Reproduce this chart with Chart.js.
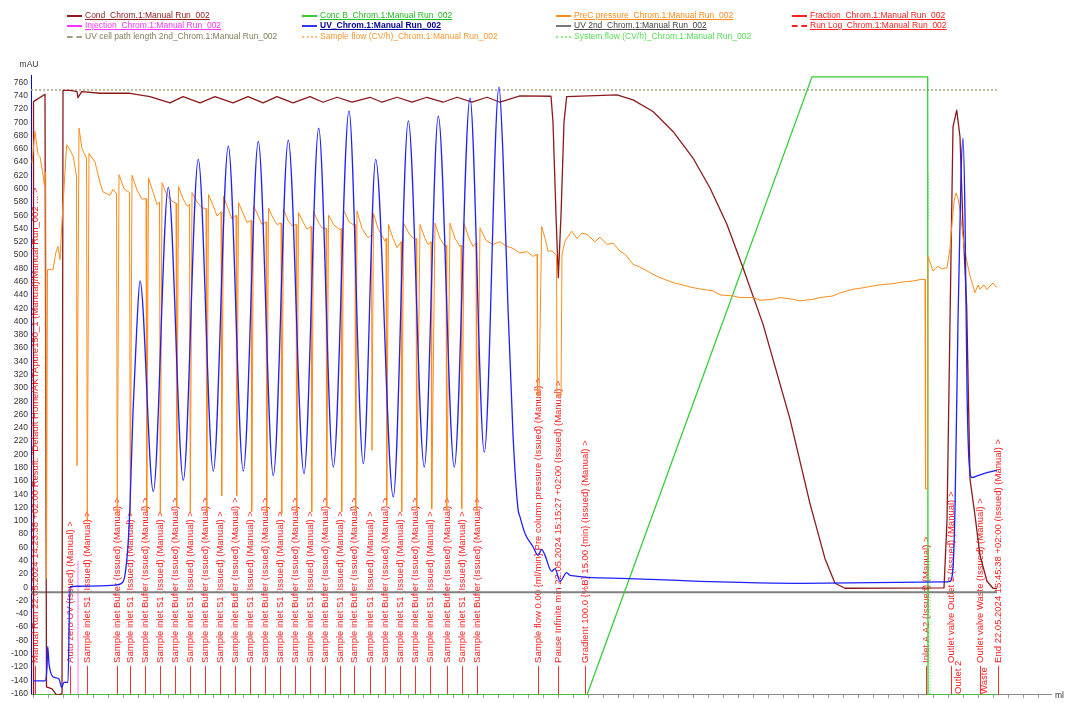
<!DOCTYPE html>
<html>
<head>
<meta charset="utf-8">
<script src="https://cdn.jsdelivr.net/npm/chart.js@4.4.1/dist/chart.umd.min.js"></script>
<style>
  html, body { margin: 0; padding: 0; background: #fff; }
  #wrap { position: relative; width: 1067px; height: 703px; }
  #legend { position: absolute; left: 0; top: 0; font-family: "Liberation Sans", Arial, sans-serif; font-size: 8.5px; }
  .item { position: absolute; height: 11px; line-height: 11px; white-space: nowrap; }
  .swatch { position: absolute; left: 0; top: 5px; width: 15px; height: 0; }
  .label { position: absolute; left: 18px; top: 0; }
</style>
</head>
<body>
<div id="wrap">
  <canvas id="chart" width="1067" height="703"></canvas>
  <div id="legend"></div>
</div>
<script>
// x in ml, y in mAU (Conc B in %)
const uvPoints = [
  [3.3,-141],[4.5,-141],[4.7,-120],[4.77,-89],[4.9,-115],[5.1,-130],[5.5,-136],[5.9,-138],[6.17,-151],[6.4,-143],[6.8,-143],
  [7.0,1],[7.8,1.5],[10.0,2],[11.8,4],[12.3,8],[12.5,18.5],[12.8,63],[13.0,123],[13.3,264],[13.67,388],[14.0,461],
  [15.33,144],[16.83,602],[18.33,161],[19.83,644],[21.33,175],[22.83,664],[24.33,175],[25.83,671],[27.33,168],[28.83,673],
  [30.4,171],[31.87,691],[33.33,181],[34.9,717],[36.33,186],[37.57,644],[39.33,136],[40.83,702],[42.43,181],[43.83,709],
  [45.43,181],[47.0,736],[48.43,203],[49.9,753],[50.3,650],[50.8,420],[51.3,230],[51.8,118],[52.0,106],[52.5,81],
  [53.3,61],[53.8,48],[54.17,57],[54.5,48],[55.17,24],[55.5,28],[56.0,9],[56.67,22],[57.0,18],[62.0,13.5],[65.0,12],
  [70.0,9],[75.0,7],[80.0,6],[85.0,6.5],[90.0,7.5],[94.4,8],[95.0,9],[95.3,30],[95.5,118],[95.8,400],[96.1,620],
  [96.3,676],[96.5,560],[96.7,300],[96.9,190],[97.2,165],[97.8,168],[98.6,172],[99.7,176]
];
const condPoints = [
  [3.3,-162],[3.35,731],[4.5,742],[4.65,-150],[5.2,-153],[5.7,-163],[6.2,-160],[6.3,748],[7.0,748],[7.7,746],[7.8,737],
  [8.17,746],[10.0,743.5],[13.0,743.5],[15.0,738.5],[17.0,729],[18.3,738.5],[20.0,729],[21.5,738.5],[23.3,729],[24.8,738.5],
  [26.3,729],[27.7,738.5],[29.3,729],[31.0,738.5],[32.3,730],[33.7,737.5],[35.2,730],[37.0,737.5],[38.2,730],[39.7,737.5],
  [41.2,730],[42.7,737.5],[44.3,730],[45.7,737.5],[47.2,730],[48.7,737.5],[50.0,730],[52.0,739.5],[55.1,739],[55.3,700],
  [55.6,560],[55.83,466],[56.1,560],[56.4,700],[56.67,738.5],[61.7,741],[63.3,733.5],[65.3,716],[67.3,686],[69.3,646],
  [71.0,601],[72.7,546],[74.3,481],[76.3,396],[79.0,253],[81.0,126],[82.5,43],[83.5,6],[84.5,-1.5],[94.4,-1],[94.7,100],
  [95.0,400],[95.3,693],[95.67,718],[96.0,678],[96.3,543],[96.67,423],[97.0,163],[97.5,108],[98.0,48],[98.7,9],[99.3,-1.5],
  [99.7,-2]
];
const precPoints = [
  [3.2,639],[3.5,686],[3.8,651],[4.0,648],[4.33,618],[4.43,606],[4.57,625],[4.65,13],[4.75,478],[5.3,478],[5.6,505],
  [5.8,513],[6.0,493],[6.17,543],[6.67,666],[7.0,658],[7.33,648],[7.65,618],[7.7,183],[7.9,691],[8.2,660],[8.65,646],
  [8.73,99],[8.9,653],[9.5,640],[10.0,609],[10.3,595],[11.0,590],[11.3,599],[11.65,592],[11.73,108],[11.9,621],[12.4,600],
  [12.95,594],[13.03,108],[13.2,620],[13.7,598],[14.2,584],[14.6,585],[14.67,114],[14.85,616],[15.3,595],[15.7,576],
  [15.95,580],[16.03,110],[16.2,609],[16.7,590],[17.2,581],[17.6,578],[17.67,121],[17.85,603],[18.3,585],[18.7,574],
  [18.95,576],[19.03,114],[19.2,594],[19.7,580],[20.2,571],[20.6,570],[20.67,114],[20.85,591],[21.3,575],[21.7,559],
  [22.1,565],[22.17,138],[22.35,589],[22.8,570],[23.2,554],[23.6,560],[23.67,138],[23.85,579],[24.3,563],[24.7,549],
  [25.1,552],[25.17,114],[25.35,574],[25.8,560],[26.2,546],[26.6,550],[26.67,114],[26.85,571],[27.3,556],[27.7,546],
  [28.1,548],[28.17,111],[28.35,569],[28.8,552],[29.2,544],[29.6,546],[29.67,114],[29.85,564],[30.3,550],[30.7,539],
  [31.1,543],[31.17,114],[31.35,566],[31.8,550],[32.2,541],[32.6,540],[32.67,121],[32.85,560],[33.4,545],[34.0,538],
  [34.1,540],[34.17,114],[34.35,568],[34.9,550],[35.4,545],[35.5,546],[35.57,116],[35.7,566],[36.2,540],[36.8,526],
  [37.15,530],[37.2,206],[37.35,563],[37.8,540],[38.5,521],[38.6,525],[38.67,123],[38.85,546],[39.3,525],[39.7,511],
  [40.1,520],[40.17,114],[40.35,548],[41.0,530],[41.5,523],[41.6,525],[41.67,118],[42.0,546],[42.5,525],[42.8,516],
  [43.1,520],[43.17,118],[43.5,548],[44.0,525],[44.5,513],[44.6,515],[44.67,116],[45.0,548],[45.5,525],[46.0,513],
  [46.1,515],[46.17,118],[46.4,548],[46.9,525],[47.3,513],[47.6,518],[47.67,116],[48.0,541],[48.6,522],[49.3,516],
  [50.0,520],[50.7,513],[51.3,510],[52.0,503],[52.7,505],[53.3,498],[53.7,501],[53.75,288],[53.9,288],[54.17,543],
  [54.5,525],[54.8,506],[55.2,506],[55.65,500],[55.7,288],[56.1,288],[56.2,501],[56.5,521],[57.17,536],[57.7,525],
  [58.2,533],[58.7,531],[59.5,520],[60.0,527],[60.7,516],[61.3,518],[62.0,506],[62.6,500],[63.3,486],[64.0,482],
  [65.3,471],[66.0,466],[67.3,458.5],[68.0,456],[69.3,451],[70.0,449],[71.3,446],[72.0,440],[73.3,438.5],[74.0,436],
  [75.3,436],[76.0,432],[77.3,433.5],[78.0,436],[79.3,433.5],[80.0,431],[81.3,433.5],[82.0,436],[83.3,438.5],[84.0,443],
  [85.3,448.5],[86.0,450],[87.3,453.5],[88.0,455],[89.3,457],[90.0,459],[91.3,461],[92.0,463],[92.5,463.5],[92.55,148],
  [92.75,148],[92.8,498.5],[93.1,485],[93.3,476],[93.8,483],[94.2,479],[94.7,481],[95.0,510],[95.17,543],[95.4,580],
  [95.6,593.5],[95.8,585],[96.0,568],[96.2,540],[96.5,503.5],[97.0,468.5],[97.5,443.5],[97.8,455],[98.0,448.5],
  [98.4,455],[98.7,448],[99.0,453.5],[99.3,458],[99.67,451]
];
const concBPoints = [[3.1,0],[58.7,0],[81.2,100],[92.77,100],[92.8,0],[99.7,0]];
const uv2ndPoints = [[3.1,-7.5],[99.7,-7.5]];
const cellPathPoints = [[3.1,748.5],[99.7,748.5]];
const injectionPoints = [[7.8,-162],[7.8,40]];
const systemFlowPoints = [[92.85,624],[92.85,553],[92.9,null],[93.0,48],[93.0,-162]];

const runLogX = [3.5, 7.0, 8.67, 11.67, 13.0, 14.5, 16.0, 17.5, 19.0, 20.5, 22.0, 23.5, 25.0, 26.5, 28.0, 29.5, 31.0, 32.5,
  34.0, 35.4, 37.0, 38.5, 40.0, 41.5, 43.0, 44.67, 46.17, 47.67, 53.83, 55.83, 58.5, 92.55, 95.1, 97.95, 99.75];
const S1 = 'Sample inlet S1 (Issued) (Manual) >';
const BUF = 'Sample inlet Buffer (Issued) (Manual) >';
const runLogText = [
  'Manual Run 22.05.2024 14:23:38 +02:00 Result: "Default Home/AKTApure150_1 (Manual)/Manual Run_002 ... >',
  'Auto zero UV (Issued) (Manual) >',
  S1, BUF, S1, BUF, S1, BUF, S1, BUF, S1, BUF, S1, BUF, S1, BUF, S1, BUF, S1, BUF, S1, BUF, S1, BUF, S1, BUF, S1, BUF,
  'Sample flow 0.00 {ml/min} Pre column pressure (Issued) (Manual) >',
  'Pause Infinite min 22.05.2024 15:15:27 +02:00 (Issued) (Manual) >',
  'Gradient 100.0 {%B} 15.00 {min} (Issued) (Manual) >',
  'Inlet A A2 (Issued) (Manual) >',
  'Outlet valve Outlet 2 (Issued) (Manual) >',
  'Outlet valve Waste (Issued) (Manual) >',
  'End 22.05.2024 15:45:38 +02:00 (Issued) (Manual) >'
];
const fractionX = [95.8, 98.4];
const fractionText = ['Outlet 2', 'Waste'];
const yTicks = [-160,-140,-120,-100,-80,-60,-40,-20,0,20,40,60,80,100,120,140,160,180,200,220,240,260,280,300,320,340,
  360,380,400,420,440,460,480,500,520,540,560,580,600,620,640,660,680,700,720,740,760];

const FONT = '"Liberation Sans", Arial, sans-serif';

// legend (drawn as HTML, above the canvas)
const legendItems = [
  { text: 'Cond_Chrom.1:Manual Run_002', color: '#8b1a1a', tc: '#8b1a1a', style: 'solid', col: 0, row: 0, u: true },
  { text: 'Conc B_Chrom.1:Manual Run_002', color: '#33cc33', tc: '#22bb22', style: 'solid', col: 1, row: 0, u: true },
  { text: 'PreC pressure_Chrom.1:Manual Run_002', color: '#ff8c1a', tc: '#ff8c1a', style: 'solid', col: 2, row: 0, u: true },
  { text: 'Fraction_Chrom.1:Manual Run_002', color: '#ff2020', tc: '#ff2020', style: 'solid', col: 3, row: 0, u: true },
  { text: 'Injection_Chrom.1:Manual Run_002', color: '#ff33ff', tc: '#ff33ff', style: 'solid', col: 0, row: 1, u: true },
  { text: 'UV_Chrom.1:Manual Run_002', color: '#3333ff', tc: '#000099', style: 'solid', col: 1, row: 1, u: true, b: true },
  { text: 'UV 2nd_Chrom.1:Manual Run_002', color: '#777777', tc: '#444444', style: 'solid', col: 2, row: 1, u: true },
  { text: 'Run Log_Chrom.1:Manual Run_002', color: '#ff2020', tc: '#ff2020', style: 'dashed', col: 3, row: 1, u: true },
  { text: 'UV cell path length 2nd_Chrom.1:Manual Run_002', color: '#a0a080', tc: '#80805a', style: 'dashed', col: 0, row: 2 },
  { text: 'Sample flow (CV/h)_Chrom.1:Manual Run_002', color: '#ffbb77', tc: '#ff9933', style: 'dotted', col: 1, row: 2 },
  { text: 'System flow (CV/h)_Chrom.1:Manual Run_002', color: '#88ee88', tc: '#55dd55', style: 'dotted', col: 2, row: 2 }
];
const legendCols = [67, 302, 556, 792];
const legendRows = [15, 25.5, 36];
const legendEl = document.getElementById('legend');
legendItems.forEach(it => {
  const d = document.createElement('div');
  d.className = 'item';
  d.style.left = legendCols[it.col] + 'px';
  d.style.top = (legendRows[it.row] - 5.5) + 'px';
  const sw = document.createElement('span');
  sw.className = 'swatch';
  sw.style.borderTop = '2px ' + it.style + ' ' + it.color;
  const lb = document.createElement('span');
  lb.className = 'label';
  lb.textContent = it.text;
  lb.style.color = it.tc;
  if (it.u) lb.style.textDecoration = 'underline';
  if (it.b) lb.style.fontWeight = 'bold';
  d.appendChild(sw);
  d.appendChild(lb);
  legendEl.appendChild(d);
});

const toXY = pts => pts.map(p => ({ x: p[0], y: p[1] }));

const runLogPlugin = {
  id: 'runLog',
  beforeDatasetsDraw(chart) {
    const { ctx, chartArea, scales: { x } } = chart;
    ctx.save();
    ctx.font = '9.5px ' + FONT;
    ctx.fillStyle = '#ff2020';
    ctx.strokeStyle = '#ff3030';
    ctx.lineWidth = 1;
    runLogX.forEach((v, i) => {
      const px = Math.round(x.getPixelForValue(v)) + 0.5;
      ctx.beginPath();
      ctx.moveTo(px, chartArea.bottom);
      ctx.lineTo(px, chartArea.bottom - 29);
      ctx.stroke();
      ctx.save();
      ctx.translate(px, chartArea.bottom - 32);
      ctx.rotate(-Math.PI / 2);
      ctx.textAlign = 'left';
      ctx.textBaseline = 'middle';
      ctx.fillText(runLogText[i], 0, 0);
      ctx.restore();
    });
    fractionX.forEach((v, i) => {
      const px = x.getPixelForValue(v);
      ctx.save();
      ctx.translate(px, chartArea.bottom - 1);
      ctx.rotate(-Math.PI / 2);
      ctx.textAlign = 'left';
      ctx.textBaseline = 'middle';
      ctx.fillText(fractionText[i], 0, 0);
      ctx.restore();
    });
    ctx.restore();
  },
  afterDraw(chart) {
    const { ctx, chartArea } = chart;
    ctx.save();
    ctx.font = '8.5px ' + FONT;
    ctx.fillStyle = '#333';
    ctx.textBaseline = 'middle';
    ctx.textAlign = 'center';
    ctx.fillText('mAU', 29, 65);
    ctx.textAlign = 'left';
    ctx.fillText('ml', chartArea.right + 4, chartArea.bottom + 1);
    ctx.restore();
  }
};

const base = { pointRadius: 0, fill: false, borderJoinStyle: 'round' };

new Chart(document.getElementById('chart'), {
  type: 'line',
  data: {
    datasets: [
      { ...base, label: 'UV', data: toXY(uvPoints), borderColor: '#1f1fff', borderWidth: 1.3, cubicInterpolationMode: 'monotone', order: 0 },
      { ...base, label: 'PreC pressure', data: toXY(precPoints), borderColor: '#ff8c1a', borderWidth: 1, order: 1 },
      { ...base, label: 'Cond', data: toXY(condPoints), borderColor: '#8b1a1a', borderWidth: 1.3, order: 2 },
      { ...base, label: 'Conc B', data: toXY(concBPoints), borderColor: '#33cc33', borderWidth: 1.3, yAxisID: 'y2', order: 3 },
      { ...base, label: 'UV 2nd', data: toXY(uv2ndPoints), borderColor: '#808080', borderWidth: 2, order: 4 },
      { ...base, label: 'UV cell path length 2nd', data: toXY(cellPathPoints), borderColor: '#a8a882', borderWidth: 1.5, borderDash: [2, 2], order: 5 },
      { ...base, label: 'Injection', data: toXY(injectionPoints), borderColor: '#ff80ff', borderWidth: 1, order: 6 },
      { ...base, label: 'System flow (CV/h)', data: toXY(systemFlowPoints), borderColor: '#88ee88', borderWidth: 1.5, borderDash: [1, 2], order: 7 }
    ]
  },
  options: {
    responsive: false,
    animation: false,
    events: [],
    layout: { padding: { left: 0, right: 16, top: 75, bottom: 0 } },
    plugins: { legend: { display: false }, tooltip: { enabled: false } },
    scales: {
      x: {
        type: 'linear',
        min: 3.1,
        max: 105.1,
        afterBuildTicks: scale => {
          const t = [];
          for (let v = 3.33; v < 105; v += 1.5) t.push({ value: v });
          scale.ticks = t;
        },
        afterFit: scale => { scale.height = 6; },
        ticks: { display: false, autoSkip: false },
        grid: { drawOnChartArea: false, drawTicks: true, tickLength: 3, color: '#999' },
        border: { display: true, color: '#8a8a8a', width: 1 }
      },
      y: {
        type: 'linear',
        position: 'left',
        min: -162,
        max: 771,
        afterBuildTicks: scale => { scale.ticks = yTicks.map(v => ({ value: v })); },
        afterFit: scale => { scale.width = 31; },
        ticks: { color: '#333', padding: 3, font: { size: 8.5, family: FONT }, autoSkip: false },
        grid: { drawOnChartArea: false, drawTicks: false },
        border: { display: true, color: '#0000ff', width: 1 }
      },
      y2: {
        type: 'linear',
        display: false,
        min: 0,
        max: 100.3
      }
    }
  },
  plugins: [runLogPlugin]
});
</script>
</body>
</html>
